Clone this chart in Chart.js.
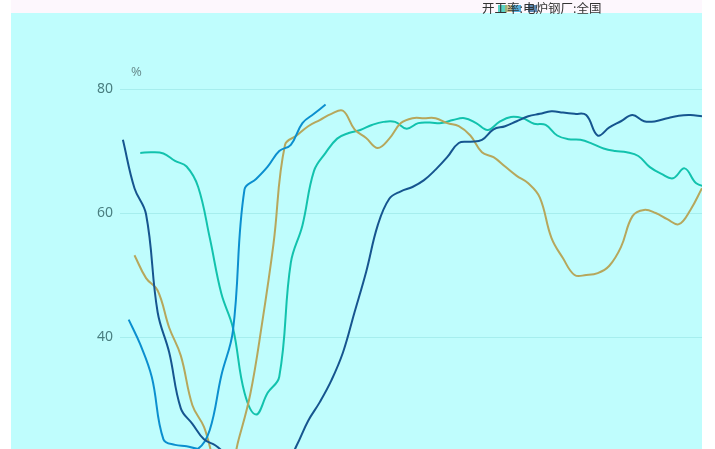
<!DOCTYPE html>
<html>
<head>
<meta charset="utf-8">
<script src="https://cdn.jsdelivr.net/npm/chart.js@4"></script>
<style>
  html, body { margin: 0; padding: 0; background: #ffffff; overflow: hidden; }
  #chart { display: block; }
</style>
</head>
<body>
<canvas id="chart" width="715" height="449"></canvas>
<script>
// series sampled every 2 steps on a shared index axis, each with its own start
const legendText = "开工率:电炉钢厂:全国";
const yTicks = [40, 60, 80];
const unitLabel = "%";

const seriesNames = ["系列1", "系列2", "系列3", "系列4"];
const seriesStarts = [0, 1, 2, 3];

const navyValues = [71.8, 64, 59.8, 44, 37.5, 28.5, 26, 23.5, 22.5, 21, 20, 19.5, 19, 19, 19,
  22.5, 26.5, 29.5, 33, 37.5, 44, 50.5, 58, 62.3, 63.5, 64.2, 65.3, 67, 69, 71.3, 71.5, 71.8,
  73.5, 74, 74.8, 75.6, 76, 76.4, 76.2, 76, 75.8, 72.5, 73.8, 74.8, 75.8, 74.8, 74.8, 75.3,
  75.7, 75.8, 75.6];
const blueValues = [42.8, 38.8, 33.5, 23.5, 22.6, 22.4, 22.0, 25, 33.8, 41, 63.8, 65.5, 67.5,
  70, 71, 74.5, 76, 77.5];
const oliveValues = [53.2, 49.5, 47.5, 41.5, 37, 29, 25.5, 19.5, 17, 23.5, 30.8, 42, 55, 71,
  72.5, 74, 75, 76, 76.5, 73.5, 72.1, 70.5, 72, 74.5, 75.3, 75.3, 75.3, 74.5, 74, 72.5, 69.8,
  69, 67.5, 66, 64.8, 62.5, 56, 52.7, 50, 50, 50.3, 51.5, 54.5, 59.5, 60.5, 60, 59, 58.2,
  60.5, 64];
const tealValues = [69.7, 69.8, 69.6, 68.4, 67.5, 64.2, 56, 47, 41.5, 31, 27.5, 31, 33.6, 52,
  58, 66.8, 69.7, 72, 72.9, 73.4, 74.2, 74.7, 74.7, 73.6, 74.5, 74.6, 74.5, 75, 75.3, 74.5,
  73.4, 74.7, 75.5, 75.3, 74.4, 74.2, 72.5, 71.9, 71.8, 71.2, 70.4, 70, 69.8, 69.2, 67.4,
  66.3, 65.6, 67.2, 64.8, 64.2];

const seriesColors = ["#16558f", "#0b8fcf", "#b6a75c", "#12c2ad"];

function toPoints(values, start) {
  return values.map((v, i) => ({ x: start + i * 2, y: v }));
}

const allValues = [navyValues, blueValues, oliveValues, tealValues];

const bgPlugin = {
  id: "bg",
  beforeDraw(chart) {
    const c = chart.ctx;
    c.save();
    c.fillStyle = "#ffffff";
    c.fillRect(0, 0, chart.width, chart.height);
    c.fillStyle = "#fdf7fd";
    c.fillRect(11, 0, 691, 13);
    c.fillStyle = "#bffdfd";
    c.fillRect(11, 13, 691, chart.height - 13);
    c.restore();
  },
  afterDraw(chart) {
    const c = chart.ctx;
    c.save();
    // legend (overlapping items in the original)
    const marks = [[498, "#12c2ad"], [505, "#b6a75c"], [512, "#0b8fcf"], [528, "#16558f"]];
    marks.forEach(([x, col]) => {
      c.fillStyle = col;
      c.globalAlpha = 0.7;
      c.fillRect(x, 5, 9, 7);
    });
    c.globalAlpha = 1;
    c.fillStyle = "#333333";
    c.font = "12.5px 'Noto Sans CJK SC'";
    c.textBaseline = "middle";
    c.fillText(legendText, 482, 8);
    // unit label
    c.fillStyle = "#6b8f90";
    c.font = "13px 'Noto Sans'";
    c.fillText(unitLabel, 131, 72);
    c.restore();
  }
};

const ctx = document.getElementById("chart").getContext("2d");
const chart = new Chart(ctx, {
  type: "line",
  data: {
    datasets: allValues.map((vals, i) => ({
      label: seriesNames[i],
      data: toPoints(vals, seriesStarts[i]),
      borderColor: seriesColors[i],
      backgroundColor: seriesColors[i],
      borderWidth: 2,
      pointRadius: 0,
      tension: 0.4,
      fill: false,
    })),
  },
  options: {
    responsive: false,
    animation: false,
    layout: { padding: { left: 0, right: 13, top: 13, bottom: 0 } },
    plugins: {
      legend: { display: false },
      tooltip: { enabled: false },
    },
    scales: {
      x: {
        type: "linear",
        min: -0.5,
        max: 100,
        display: false,
      },
      y: {
        min: 21.94,
        max: 92.26,
        afterBuildTicks(scale) {
          scale.ticks = yTicks.map((v) => ({ value: v }));
        },
        afterFit(scale) {
          scale.width = 120;
          scale.paddingTop = 0;
          scale.paddingBottom = 0;
        },
        border: { display: false },
        grid: {
          color: "#a6eeee",
          drawTicks: false,
          lineWidth: 1,
        },
        ticks: {
          padding: 7,
          color: "#4a7f80",
          font: { size: 14, family: "Noto Sans" },
        },
      },
    },
  },
  plugins: [bgPlugin],
});
</script>
</body>
</html>
